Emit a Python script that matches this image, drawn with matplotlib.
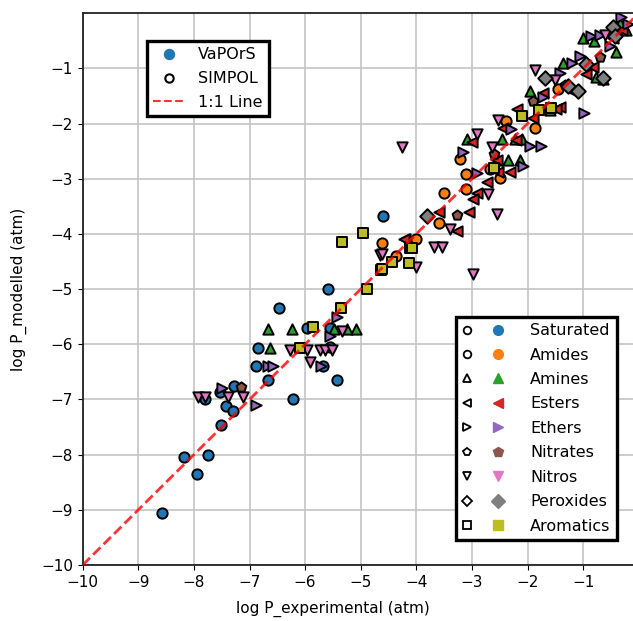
import matplotlib
matplotlib.use("Agg")
import matplotlib.pyplot as plt
from matplotlib.lines import Line2D
from matplotlib.legend_handler import HandlerTuple

plt.rcParams['font.family'] = ['DejaVu Sans']
plt.rcParams['font.size'] = 11

categories = ["Saturated", "Amides", "Amines", "Esters", "Ethers",
              "Nitrates", "Nitros", "Peroxides", "Aromatics"]
markers = ['o', 'o', '^', '<', '>', 'p', 'v', 'D', 's']
colors = ['#1f77b4', '#ff7f0e', '#2ca02c', '#d62728', '#9467bd',
          '#8c564b', '#e377c2', '#7f7f7f', '#bcbd22']

saturated_x = [-8.57, -8.17, -7.95, -7.75, -7.51, -7.43, -7.29, -7.53, -7.27, -7.80, -6.88,
               -6.85, -6.67, -6.47, -6.22, -5.97, -5.55, -5.59, -5.55, -5.68, -5.42, -4.59]
saturated_y = [-9.06, -8.05, -8.35, -8.00, -7.47, -7.11, -7.21, -6.86, -6.75, -6.99, -6.40,
               -6.06, -6.64, -5.35, -6.99, -5.70, -5.70, -5.00, -6.05, -6.40, -6.64, -3.68]

amides_x = [-2.39, -1.87, -3.21, -3.10, -2.67, -3.51, -3.11, -3.60, -4.01, -4.62, -4.37, -2.49, -1.45]
amides_y = [-1.96, -2.08, -2.64, -2.92, -2.83, -3.25, -3.19, -3.80, -4.09, -4.17, -4.40, -2.99, -1.38]

amines_x = [-6.67, -6.63, -6.24, -5.48, -5.25, -5.08, -3.08, -2.46, -2.23, -2.10, -1.95, -1.37,
            -1.00, -0.41, -0.76, -0.34, -1.60, -0.65, -2.53, -2.35, -2.14, -0.80, -0.22]
amines_y = [-5.72, -6.06, -5.72, -5.72, -5.72, -5.72, -2.28, -2.28, -2.28, -2.28, -1.41, -0.90,
            -0.45, -0.70, -1.15, -0.18, -1.75, -1.19, -2.65, -2.65, -2.65, -0.50, -0.30]

esters_x = [-2.53, -2.32, -2.91, -2.98, -3.06, -3.60, -3.27, -4.20, -2.73, -2.55, -2.19, -2.44,
            -1.72, -1.42, -3.00, -0.82, -0.94, -0.46, -1.48, -4.23, -2.20, -1.90, -1.20, -0.30]
esters_y = [-2.87, -2.87, -3.25, -3.37, -3.60, -3.60, -3.95, -4.10, -3.05, -2.65, -1.74, -2.07,
            -1.45, -1.69, -2.33, -0.97, -1.10, -0.45, -1.74, -4.10, -2.30, -1.90, -1.40, -0.30]

ethers_x = [-0.98, -1.95, -1.75, -3.16, -2.08, -1.72, -1.05, -0.85, -0.70, -0.31, -1.42, -0.52,
            -6.66, -6.57, -7.50, -6.88, -5.56, -5.43, -5.71, -2.90, -2.30, -1.20, -0.20]
ethers_y = [-1.81, -2.40, -2.40, -2.51, -2.77, -1.52, -0.77, -0.42, -0.39, -0.06, -1.09, -0.59,
            -6.40, -6.40, -6.80, -7.10, -5.85, -5.51, -6.40, -2.90, -2.10, -0.90, -0.20]

nitrates_x = [-7.15, -1.90, -0.70, -3.27, -1.33, -2.60]
nitrates_y = [-6.77, -1.59, -0.79, -3.66, -1.30, -2.55]

nitros_x = [-7.92, -7.38, -7.12, -6.27, -5.97, -5.73, -5.64, -5.51, -5.91, -5.34, -4.65, -2.71,
            -2.55, -3.39, -3.69, -3.54, -4.01, -2.98, -4.62, -4.26, -1.87, -2.91, -2.53, -2.64,
            -7.80, -1.50, -0.60]
nitros_y = [-6.96, -6.96, -6.96, -6.10, -6.10, -6.10, -6.10, -6.10, -6.32, -5.76, -4.38, -3.28,
            -3.64, -3.91, -4.24, -4.24, -4.59, -4.73, -4.36, -2.42, -1.03, -2.18, -1.93, -2.42,
            -6.96, -1.20, -0.40]

peroxides_x = [-1.69, -0.64, -1.27, -0.46, -0.94, -0.43, -3.81, -1.10]
peroxides_y = [-1.18, -1.18, -1.32, -0.24, -0.91, -0.42, -3.68, -1.40]

aromatics_x = [-5.33, -4.95, -4.63, -4.43, -4.14, -4.12, -4.89, -5.35, -5.85, -6.09, -4.08,
               -4.62, -2.10, -1.57, -2.60, -1.80]
aromatics_y = [-4.14, -3.99, -4.66, -4.50, -4.52, -4.26, -4.99, -5.35, -5.68, -6.07, -4.26,
               -4.64, -1.86, -1.72, -2.80, -1.75]

xs = [saturated_x, amides_x, amines_x, esters_x, ethers_x, nitrates_x, nitros_x, peroxides_x, aromatics_x]
ys = [saturated_y, amides_y, amines_y, esters_y, ethers_y, nitrates_y, nitros_y, peroxides_y, aromatics_y]

line_x = [-10, 0]
line_y = [-10, 0]

W, H = 633, 621
fig = plt.figure(figsize=(W / 100, H / 100), dpi=100)
ax = fig.add_axes([82.7 / W, (H - 565) / H, 556 / W, 551.7 / H])

for x, y, m, c in zip(xs, ys, markers, colors):
    ax.scatter(x, y, marker=m, s=55, c=c, edgecolors='black', linewidths=1.4, zorder=3)

ax.plot(line_x, line_y, '--', color='red', alpha=0.8, lw=2, zorder=4)

ax.set_xlim(-10, 0)
ax.set_ylim(-10, 0)
ax.set_xticks(range(-10, 0))
ax.set_yticks(range(-10, 0))
ax.grid(True, color='#c4c4c4', lw=1.2)
ax.set_axisbelow(True)
for s in ax.spines.values():
    s.set_linewidth(1.3)
    s.set_color('#222222')
ax.set_xlabel('log P_experimental (atm)')
ax.set_ylabel('log P_modelled (atm)')
ax.xaxis.set_label_coords((333 - 82.7) / 556, (565 - 601) / 551.7)
ax.yaxis.set_label_coords((27 - 82.7) / 556, 0.5)

LF = 11.5
h1 = [Line2D([], [], marker='o', ls='', color='#1f77b4', ms=7.2),
      Line2D([], [], marker='o', ls='', mfc='none', mec='black', mew=1.5, ms=6),
      Line2D([], [], ls='--', color='red', alpha=0.8, lw=1.5)]
leg1 = ax.legend(h1, ['VaPOrS', 'SIMPOL', '1:1 Line'], loc='upper left', fontsize=LF,
                 bbox_to_anchor=((147 - 82.7) / 556, (565 - 41) / 551.7), borderaxespad=0,
                 fancybox=False, framealpha=1, edgecolor='black', labelspacing=0.55)
leg1.get_frame().set_linewidth(2.4)
ax.add_artist(leg1)

h2 = []
for m, c in zip(markers, colors):
    o = Line2D([], [], marker=m, ls='', mfc='none', mec='black', mew=1.3, ms=5.5)
    f = Line2D([], [], marker=m, ls='', color=c, ms=7)
    h2.append((o, f))
leg2 = ax.legend(h2, categories, loc='lower right', fontsize=LF,
                 bbox_to_anchor=((617 - 82.7) / 556, (565 - 540) / 551.7), borderaxespad=0,
                 handler_map={tuple: HandlerTuple(ndivide=None, pad=1.365)}, handlelength=2.51,
                 handletextpad=1.72, fancybox=False, framealpha=1, edgecolor='black',
                 labelspacing=0.59)
leg2.get_frame().set_linewidth(2.4)

fig.savefig('out.png', dpi=100)
